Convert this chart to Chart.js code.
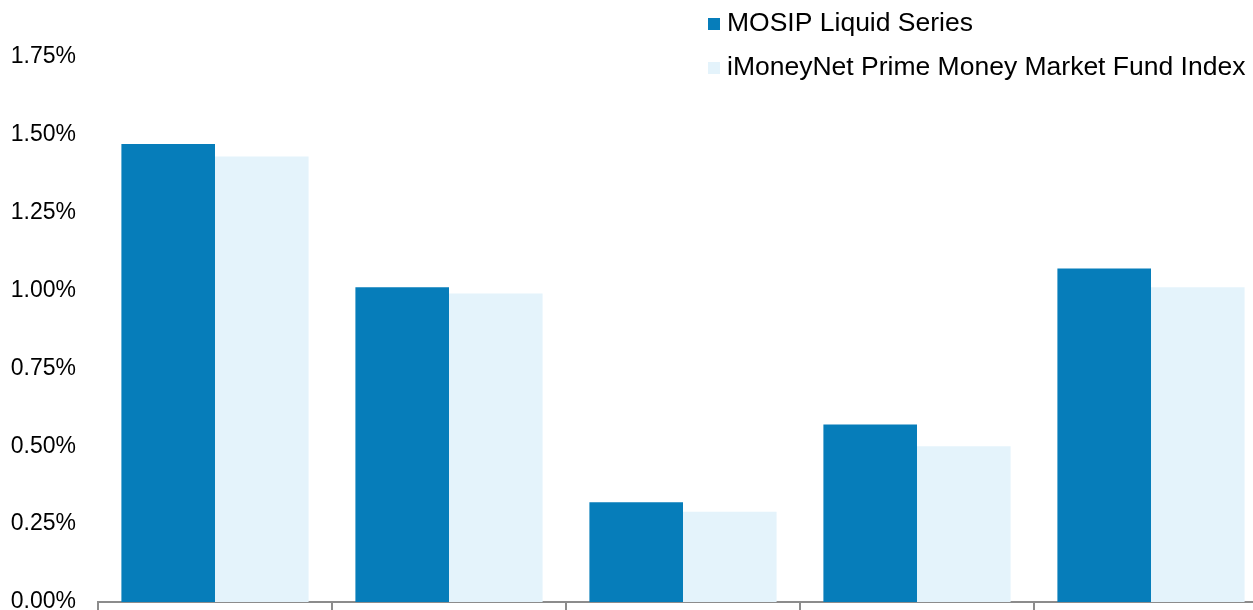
<!DOCTYPE html>
<html>
<head>
<meta charset="utf-8">
<script src="https://cdn.jsdelivr.net/npm/chart.js@4"></script>
<style>
  html, body { margin: 0; padding: 0; background: #fff; overflow: hidden; }
  #wrap { position: relative; width: 1270px; height: 610px; }
</style>
</head>
<body>
<div id="wrap"><canvas id="c"></canvas></div>
<script>
const categories = ['Period 1', 'Period 2', 'Period 3', 'Period 4', 'Period 5'];
const mosipLiquid = [1.47, 1.01, 0.32, 0.57, 1.07];
const imoneynetPrime = [1.43, 0.99, 0.29, 0.50, 1.01];
const seriesNames = ['MOSIP Liquid Series', 'iMoneyNet Prime Money Market Fund Index'];
const yTickValues = [0, 0.25, 0.5, 0.75, 1.0, 1.25, 1.5, 1.75];

const FONT = "'Liberation Sans', Arial, sans-serif";

const legendPlugin = {
  id: 'cornerLegend',
  afterDraw(chart) {
    const ctx = chart.ctx;
    ctx.save();
    ctx.font = '26.5px ' + FONT;
    ctx.textBaseline = 'middle';
    ctx.textAlign = 'left';
    chart.data.datasets.forEach((ds, i) => {
      const y = 24 + i * 44;
      ctx.fillStyle = ds.backgroundColor;
      ctx.fillRect(708, y - 6, 12, 12);
      ctx.fillStyle = '#000';
      ctx.fillText(ds.label, 727, y);
    });
    ctx.restore();
  }
};

new Chart(document.getElementById('c'), {
  type: 'bar',
  data: {
    labels: categories,
    datasets: [
      { label: seriesNames[0], data: mosipLiquid, backgroundColor: '#067DBA', borderWidth: 0 },
      { label: seriesNames[1], data: imoneynetPrime, backgroundColor: '#E4F3FB', borderWidth: 0 }
    ]
  },
  options: {
    responsive: true,
    maintainAspectRatio: false,
    animation: false,
    devicePixelRatio: 1,
    layout: { padding: { top: 10, right: 2, left: 0, bottom: 0 } },
    datasets: { bar: { categoryPercentage: 0.8, barPercentage: 1.0 } },
    plugins: { legend: { display: false }, tooltip: { enabled: false } },
    scales: {
      x: {
        ticks: { display: false },
        afterFit(scale) { scale.height = 8; },
        grid: { display: true, drawOnChartArea: false, drawTicks: true, tickLength: 8, color: '#8C8C8C', lineWidth: 2, offset: true },
        border: { display: true, color: '#8C8C8C', width: 2 }
      },
      y: {
        min: 0,
        max: 1.9,
        afterBuildTicks(scale) { scale.ticks = yTickValues.map(v => ({ value: v })); },
        afterFit(scale) { scale.width = 98; scale.paddingTop = 0; scale.paddingBottom = 0; },
        ticks: {
          color: '#000',
          padding: 22,
          font: { family: FONT, size: 23 },
          callback: v => v.toFixed(2) + '%'
        },
        grid: { display: false, drawTicks: false },
        border: { display: false }
      }
    }
  },
  plugins: [legendPlugin]
});
</script>
</body>
</html>
